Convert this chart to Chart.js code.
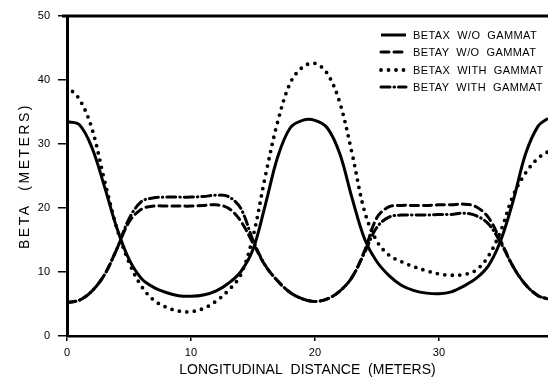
<!DOCTYPE html>
<html>
<head>
<meta charset="utf-8">
<script src="https://cdn.jsdelivr.net/npm/chart.js@4/dist/chart.umd.min.js"></script>
<style>
  html, body { margin: 0; padding: 0; background: #fff; }
  canvas { display: block; }
</style>
</head>
<body>
<canvas id="beta-chart" width="548" height="379"></canvas>
<script>
// Longitudinal distance (meters) sampled along the lattice
const distance = [0, 1, 2, 3, 4, 5, 6, 7, 8, 9, 10, 11, 12, 13, 14, 15, 16, 17, 18, 19,
  20, 21, 22, 23, 24, 25, 26, 27, 28, 29, 30, 31, 32, 33, 34, 35, 36, 37, 38, 38.8];

// Beta values (meters)
const betaxNoGammat = [33.5, 33, 29.5, 23.5, 17, 12, 9, 7.6, 6.8, 6.3, 6.2, 6.4, 7, 8.2, 10, 13.5, 20.5, 28, 32.5, 33.7,
  33.7, 32.5, 28.5, 21.5, 15.2, 11.6, 9.4, 7.9, 7.1, 6.7, 6.6, 6.9, 7.8, 9, 11, 15, 21.2, 28.5, 32.8, 34];
const betayNoGammat = [5.2, 5.6, 7, 9.5, 13.5, 17.8, 19.8, 20.3, 20.3, 20.3, 20.3, 20.4, 20.5, 20, 18, 14.5, 11, 8.6, 6.8, 5.8,
  5.4, 5.8, 7, 9.2, 13.3, 18.5, 20.2, 20.4, 20.4, 20.4, 20.5, 20.5, 20.6, 20.2, 18.5, 14.8, 10.8, 8, 6.3, 5.8];
const betaxGammat = [39, 37, 32.5, 24.5, 17, 11.5, 7.8, 5.6, 4.5, 3.9, 3.8, 4.3, 5.4, 7.1, 9.5, 15.5, 25, 33.5, 39.5, 42,
  42.6, 41, 36.5, 28.5, 19.5, 14.8, 12.6, 11.6, 10.8, 10.2, 9.7, 9.5, 9.6, 10.3, 12.5, 16.5, 22, 25.5, 27.8, 28.8];
const betayGammat = [5.2, 5.6, 7, 9.5, 13.5, 18.3, 21, 21.6, 21.7, 21.7, 21.7, 21.8, 22, 21.8, 20, 15, 11, 8.6, 6.8, 5.8,
  5.4, 5.8, 7, 9.2, 13, 17, 18.6, 18.9, 18.9, 18.9, 19, 19, 19.2, 18.8, 17.5, 14.5, 10.8, 8, 6.3, 5.8];

const seriesLabels = ['BETAX  W/O  GAMMAT', 'BETAY  W/O  GAMMAT', 'BETAX  WITH  GAMMAT', 'BETAY  WITH  GAMMAT'];
const seriesValues = [betaxNoGammat, betayNoGammat, betaxGammat, betayGammat];

const xTicks = [0, 10, 20, 30];
const yTicks = [0, 10, 20, 30, 40, 50];
const yTitle = 'BETA  (METERS)';
const xTitle = 'LONGITUDINAL  DISTANCE  (METERS)';

const FONT = '"Liberation Sans", Arial, sans-serif';

// line styles for each curve
const lineStyles = [
  { dash: [], width: 3 },
  { dash: [8, 5], width: 3 },
  { dash: [0, 7.5], width: 3.8 },
  { dash: [9, 4, 0.5, 4], width: 3 },
];

const toPoints = (vals) => vals.map((v, i) => ({ x: distance[i], y: v }));

// draws top frame line, y title and the line-sample legend
const framePlugin = {
  id: 'frame',
  afterDraw(chart) {
    const ctx = chart.ctx;
    const area = chart.chartArea;
    ctx.save();
    ctx.strokeStyle = '#000';
    ctx.lineWidth = 3;
    ctx.beginPath();
    ctx.moveTo(area.left - 5, area.top);
    ctx.lineTo(area.right, area.top);
    ctx.stroke();

    // y axis title, spaced out like the original
    ctx.save();
    ctx.translate(25, (area.top + area.bottom) / 2);
    ctx.rotate(-Math.PI / 2);
    ctx.font = '14px ' + FONT;
    if ('letterSpacing' in ctx) ctx.letterSpacing = '2.5px';
    ctx.textAlign = 'center';
    ctx.textBaseline = 'middle';
    ctx.fillStyle = '#000';
    ctx.fillText(yTitle, 0, 0);
    ctx.restore();

    // legend
    const rows = [35, 52, 70, 87];
    ctx.font = '11px ' + FONT;
    ctx.textBaseline = 'middle';
    ctx.fillStyle = '#000';
    rows.forEach((y, i) => {
      const st = lineStyles[i];
      ctx.setLineDash(st.dash);
      ctx.lineCap = i === 0 ? 'butt' : 'round';
      ctx.lineWidth = st.width;
      ctx.beginPath();
      ctx.moveTo(381, y);
      ctx.lineTo(406, y);
      ctx.stroke();
      ctx.setLineDash([]);
      if ('letterSpacing' in ctx) ctx.letterSpacing = '0.4px';
      ctx.fillText(seriesLabels[i], 413, y + 1);
    });
    ctx.restore();
  }
};

const ctx = document.getElementById('beta-chart').getContext('2d');

new Chart(ctx, {
  type: 'line',
  data: {
    datasets: seriesValues.map((vals, i) => ({
      label: seriesLabels[i],
      data: toPoints(vals),
      borderColor: '#000',
      borderWidth: lineStyles[i].width,
      borderDash: lineStyles[i].dash,
      borderCapStyle: i === 0 ? 'butt' : 'round',
      pointRadius: 0,
      fill: false,
      tension: 0.35,
    })),
  },
  options: {
    responsive: false,
    animation: false,
    layout: { padding: { top: 16, right: 0, left: 0, bottom: 0 } },
    scales: {
      x: {
        type: 'linear',
        min: 0,
        max: 38.8,
        afterFit: (scale) => { scale.height = 43; },
        afterBuildTicks: (scale) => { scale.ticks = xTicks.map(v => ({ value: v })); },
        border: { display: true, color: '#000', width: 2.5 },
        grid: { drawOnChartArea: false, drawTicks: true, tickLength: 5, color: '#000', lineWidth: 1.5 },
        ticks: { color: '#000', padding: 5, maxRotation: 0, font: { family: FONT, size: 11 } },
        title: {
          display: true,
          text: xTitle,
          color: '#000',
          padding: { top: 0, bottom: 0 },
          font: { family: FONT, size: 14 },
        },
      },
      y: {
        type: 'linear',
        min: 0,
        max: 50,
        afterFit: (scale) => { scale.width = 67; },
        afterBuildTicks: (scale) => { scale.ticks = yTicks.map(v => ({ value: v })); },
        border: { display: true, color: '#000', width: 3 },
        grid: { drawOnChartArea: false, drawTicks: true, tickLength: 9, color: '#000', lineWidth: 1.5 },
        ticks: { color: '#000', padding: 8, font: { family: FONT, size: 11 } },
      },
    },
    plugins: {
      legend: { display: false },
      tooltip: { enabled: false },
    },
  },
  plugins: [framePlugin],
});
</script>
</body>
</html>
